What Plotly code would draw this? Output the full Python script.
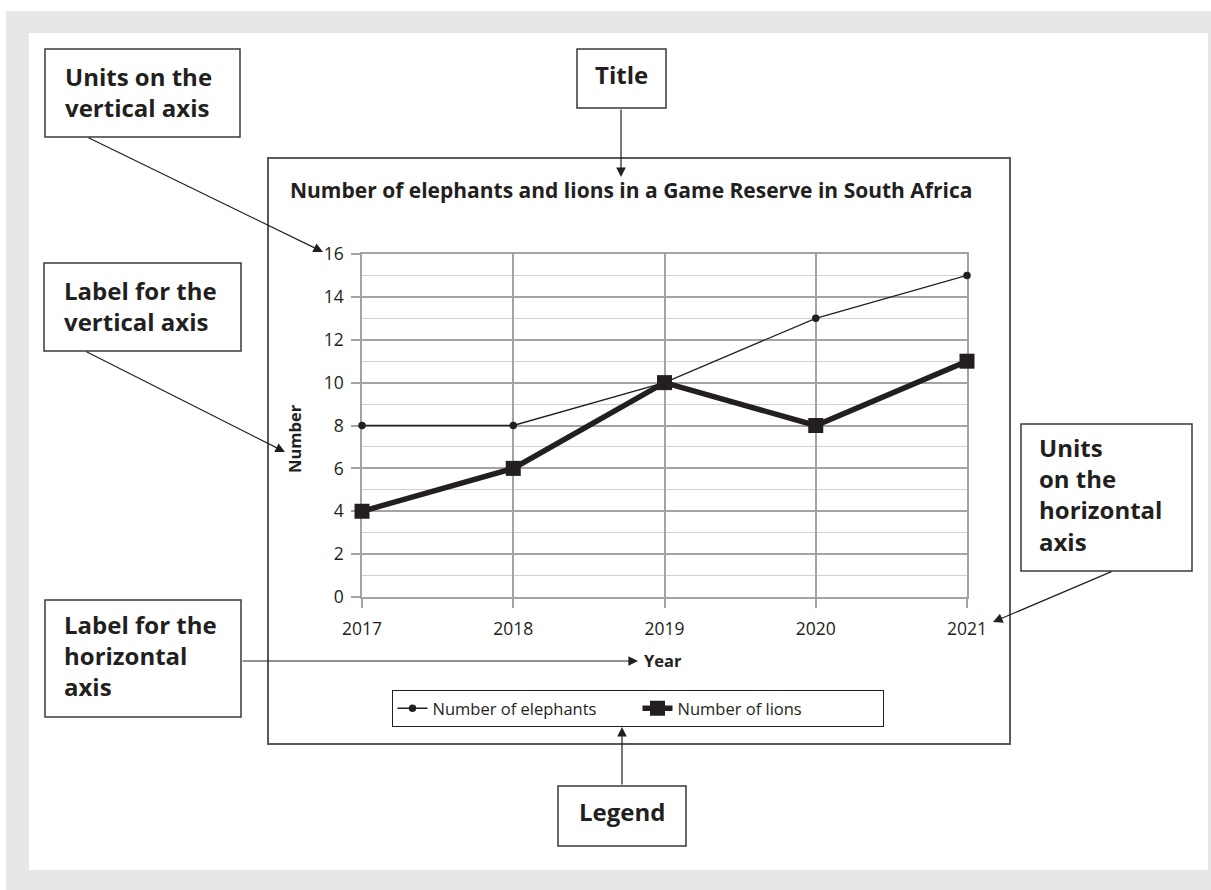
import plotly.graph_objects as go

# ---- data ----
years = [2017, 2018, 2019, 2020, 2021]
elephants = [8, 8, 10, 13, 15]
lions = [4, 6, 10, 8, 11]
y_ticks = [0, 2, 4, 6, 8, 10, 12, 14, 16]

chart_title = "Number of elephants and lions in a Game Reserve in South Africa"
x_title = "Year"
y_title = "Number"

INK = "#231f20"
GRID = "#a3a3a3"
FONT = "Open Sans"

W, H = 1211, 890
L, R, T, B = 362, 967, 254, 597  # plot area in pixels
PW, PH = R - L, B - T


def px(x):
    return (x - L) / PW


def py(y):
    return (B - y) / PH


fig = go.Figure()
fig.add_trace(go.Scatter(
    x=years, y=elephants, name="Number of elephants", mode="lines+markers",
    line=dict(color=INK, width=1.3), marker=dict(symbol="circle", size=7.5, color=INK),
    cliponaxis=False,
))
fig.add_trace(go.Scatter(
    x=years, y=lions, name="Number of lions", mode="lines+markers",
    line=dict(color=INK, width=5.5), marker=dict(symbol="square", size=15, color=INK),
    cliponaxis=False,
))

shapes = [
    # grey frame and white panel
    dict(type="rect", xref="paper", yref="paper", x0=px(6), x1=px(1211), y0=py(11), y1=py(890),
         fillcolor="#e6e7e8", line=dict(width=0), layer="below"),
    dict(type="rect", xref="paper", yref="paper", x0=px(29), x1=px(1208), y0=py(33), y1=py(870),
         fillcolor="white", line=dict(width=0), layer="below"),
    # chart frame
    dict(type="rect", xref="paper", yref="paper", x0=px(268), x1=px(1010), y0=py(158), y1=py(744),
         fillcolor="white", line=dict(color="#58595b", width=2), layer="below"),
]

# callout boxes: (x0, y0, x1, y1)
boxes = [
    (45, 49, 240, 137),
    (577, 49, 666, 108),
    (44, 263, 241, 351),
    (45, 600, 241, 717),
    (1021, 424, 1192, 571),
    (558, 786, 686, 846),
]
for x0, y0, x1, y1 in boxes:
    shapes.append(dict(type="rect", xref="paper", yref="paper", x0=px(x0), x1=px(x1),
                       y0=py(y0), y1=py(y1), fillcolor="white",
                       line=dict(color="#3a3a3a", width=1.5), layer="above"))

annotations = []
# callout texts: (lines, x, y-center, anchor)
callouts = [
    (["Units on the", "vertical axis"], 63, 92, "left"),
    (["Title"], 621.5, 75, "center"),
    (["Label for the", "vertical axis"], 62, 306, "left"),
    (["Label for the", "horizontal", "axis"], 62, 655.5, "left"),
    (["Units", "on the", "horizontal", "axis"], 1037, 494.5, "left"),
    (["Legend"], 622, 811, "center"),
]
for lines, x, y, anc in callouts:
    txt = "<br>".join(f"<b>{s}</b>" for s in lines)
    annotations.append(dict(text=txt, x=px(x), y=py(y), xref="paper", yref="paper",
                            xanchor=anc, yanchor="middle", align="left", showarrow=False,
                            font=dict(family=FONT, size=24, color=INK)))

# arrows: (tail x, tail y, tip x, tip y)
arrows = [
    (87, 137, 323, 252),
    (621, 108, 621, 177),
    (85, 351, 285, 452),
    (241, 661, 638, 661),
    (1113, 571, 993, 622),
    (622, 786, 622, 727),
]
for tx, ty, hx, hy in arrows:
    annotations.append(dict(text="", x=px(hx), y=py(hy), xref="paper", yref="paper",
                            ax=tx - hx, ay=ty - hy, axref="pixel", ayref="pixel",
                            showarrow=True, arrowhead=2, arrowsize=1.6, arrowwidth=1.2,
                            arrowcolor=INK, standoff=0))

# chart title and axis titles
annotations.append(dict(text=f"<b>{chart_title}</b>", x=px(631), y=py(190), xref="paper", yref="paper",
                        xanchor="center", yanchor="middle", showarrow=False,
                        font=dict(family=FONT, size=21, color=INK)))
annotations.append(dict(text=f"<b>{y_title}</b>", x=px(294), y=py(439), xref="paper", yref="paper",
                        xanchor="center", yanchor="middle", showarrow=False, textangle=-90,
                        font=dict(family=FONT, size=16.5, color=INK)))
annotations.append(dict(text=f"<b>{x_title}</b>", x=px(642), y=py(660), xref="paper", yref="paper",
                        xanchor="left", yanchor="middle", showarrow=False,
                        font=dict(family=FONT, size=16.5, color=INK)))

fig.update_layout(
    width=W, height=H,
    margin=dict(l=L, r=W - R, t=T, b=H - B, pad=0),
    paper_bgcolor="white", plot_bgcolor="rgba(0,0,0,0)",
    font=dict(family=FONT, color=INK, size=17),
    shapes=shapes, annotations=annotations,
    legend=dict(orientation="h", x=px(637.5), y=py(690), xanchor="center", yanchor="top",
                bgcolor="white", bordercolor=INK, borderwidth=1,
                font=dict(family=FONT, size=16.5, color=INK), entrywidth=200, tracegroupgap=0),
    showlegend=True,
)
fig.update_xaxes(
    range=[2017, 2021], tickmode="array", tickvals=years, ticktext=[str(y) for y in years],
    showgrid=True, gridcolor=GRID, gridwidth=1.5, zeroline=False,
    showline=True, mirror=True, linecolor=GRID, linewidth=1.5, layer="below traces",
    ticks="outside", ticklen=9, tickwidth=1.5, tickcolor=GRID, ticklabelstandoff=6,
    tickfont=dict(family=FONT, size=17.5, color=INK),
)
fig.update_yaxes(
    range=[0, 16], tickmode="array", tickvals=y_ticks,
    showgrid=True, gridcolor=GRID, gridwidth=1.5, zeroline=False,
    showline=True, mirror=True, linecolor=GRID, linewidth=1.5, layer="below traces",
    ticks="outside", ticklen=9, tickwidth=1.5, tickcolor=GRID, ticklabelstandoff=4,
    tickfont=dict(family=FONT, size=17.5, color=INK),
    minor=dict(dtick=1, showgrid=True, gridcolor="#d0d0d0", gridwidth=1.2, ticks=""),
)

fig.write_html("out.html", config={"displayModeBar": False},
               post_script="document.body.style.margin='0';")
